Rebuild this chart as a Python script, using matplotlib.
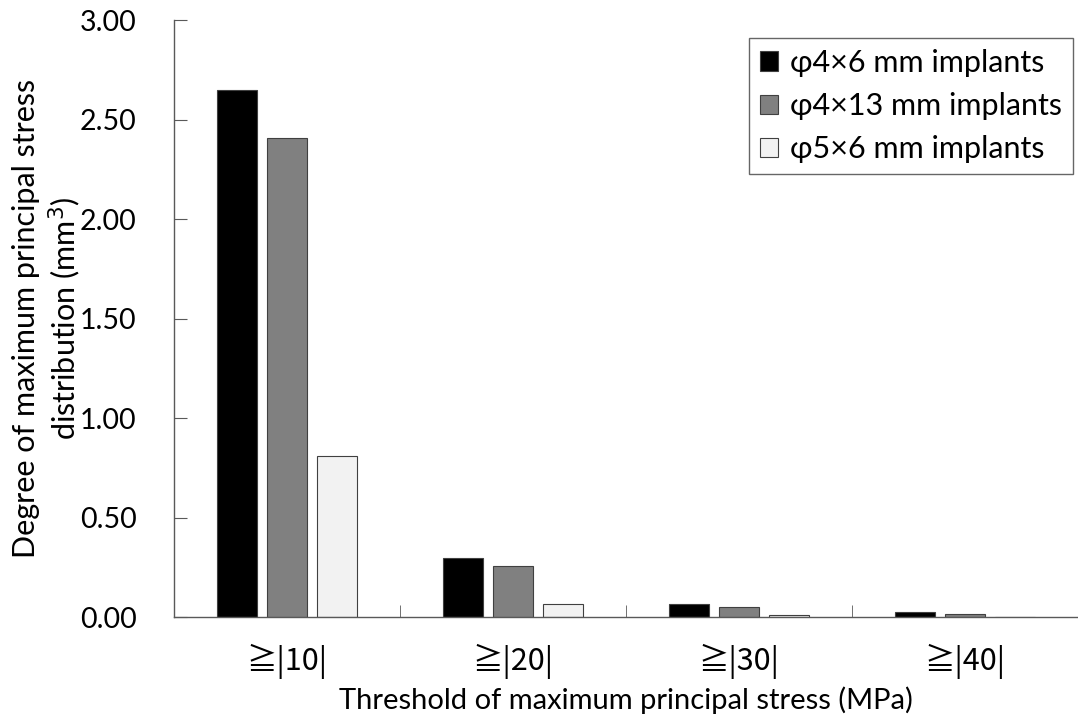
import numpy as np
import matplotlib.pyplot as plt
from matplotlib.ticker import MultipleLocator, FixedLocator

categories = ['≧|10|', '≧|20|', '≧|30|', '≧|40|']
series_names = ['φ4×6 mm implants', 'φ4×13 mm implants', 'φ5×6 mm implants']
v_4x6 = [2.65, 0.295, 0.068, 0.025]
v_4x13 = [2.41, 0.258, 0.052, 0.014]
v_5x6 = [0.81, 0.068, 0.010, 0.0]

plt.rcParams['font.family'] = ['Lato', 'DejaVu Sans']

fig = plt.figure(figsize=(10.78, 7.2), dpi=100)
ax = fig.add_axes([0.1614, 0.143, 0.8386, 0.829])

x = np.arange(len(categories))
w = 0.178
step = 0.222
colors = ['#000000', '#808080', '#f2f2f2']
for i, (vals, name) in enumerate(zip([v_4x6, v_4x13, v_5x6], series_names)):
    ax.bar(x + (i - 1) * step, vals, width=w, color=colors[i],
           edgecolor='#404040', linewidth=0.8, label=name)

ax.set_xlim(-0.5, 3.5)
ax.set_ylim(0, 3.0)
ax.yaxis.set_major_locator(MultipleLocator(0.5))
ax.yaxis.set_major_formatter(plt.FormatStrFormatter('%.2f'))
ax.set_xticks(x)
ax.set_xticklabels(categories)
ax.xaxis.set_minor_locator(FixedLocator([0.5, 1.5, 2.5, 3.5]))
ax.tick_params(axis='x', which='major', length=0, pad=19, labelsize=22)
ax.tick_params(axis='x', which='minor', direction='in', length=9, color='#595959')
ax.tick_params(axis='y', direction='in', length=9, color='#595959', labelsize=20.5, pad=27)
for lab in ax.get_xticklabels():
    lab.set_family(['Noto Sans CJK JP', 'DejaVu Sans'])

for s in ['top', 'right']:
    ax.spines[s].set_visible(False)
for s in ['left', 'bottom']:
    ax.spines[s].set_color('#595959')
    ax.spines[s].set_linewidth(1.0)

ax.set_xlabel('Threshold of maximum principal stress (MPa)', fontsize=21, labelpad=6)
ax.set_ylabel('Degree of maximum principal stress\ndistribution (mm$^3$)', fontsize=22,
              labelpad=-2, linespacing=1.2)

leg = ax.legend(loc='upper right', bbox_to_anchor=(0.9945, 0.97), borderaxespad=0,
                fontsize=22, frameon=True, fancybox=False, edgecolor='#404040',
                handlelength=0.6, handleheight=0.6, handletextpad=0.4,
                labelspacing=0.5, borderpad=0.35)
leg.get_frame().set_linewidth(1.0)

fig.savefig('out.png', dpi=100)
